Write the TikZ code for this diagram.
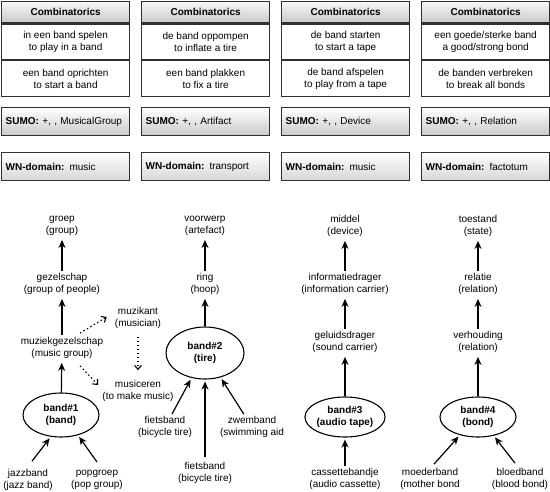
\documentclass[tikz,border=0pt]{standalone}
\usepackage{fontspec}
\setmainfont{Liberation Sans}
\usetikzlibrary{arrows.meta,shapes.geometric}
\definecolor{bord}{HTML}{303030}
\begin{document}
\begin{tikzpicture}[x=1pt,y=-1pt,
  every node/.style={font=\fontsize{10}{12}\selectfont},
  tbox/.style={draw=bord, line width=1.3pt, minimum width=128pt, inner sep=0pt, align=center},
  hdr/.style={tbox, minimum height=21pt, top color=gray!6, bottom color=gray!42, font=\fontsize{10}{12}\selectfont\bfseries},
  cell/.style={tbox, minimum height=35.5pt, fill=white},
  sbox/.style={draw=bord, line width=1.3pt, minimum width=128pt, minimum height=28pt, text width=120pt, inner xsep=4pt, inner ysep=0pt, align=left, top color=white, bottom color=gray!42},
  wbox/.style={sbox, bottom color=gray!32},
  lbl/.style={align=center, inner sep=2pt},
  ell/.style={ellipse, draw=black, line width=1.1pt, align=center, inner sep=0pt, font=\fontsize{10}{12}\selectfont\bfseries},
  arr/.style={line width=1.2pt, -{Stealth[length=8pt,width=7pt,inset=2.5pt]}, shorten >=2pt},
  darr/.style={line width=1.1pt, dash pattern=on 1.5pt off 2.5pt, -{Straight Barb[length=4pt,width=7pt]}}
]
\useasboundingbox (0,0) rectangle (550,491);

% ---- tables ----
\node[hdr, anchor=north west] (h1) at (1,1) {Combinatorics};
\node[cell, anchor=north] (a1) at (h1.south) {in een band spelen\\to play in a band};
\node[cell, anchor=north] (c1) at (a1.south) {een band oprichten\\to start a band};
\node[hdr, anchor=north west] (h2) at (141,1) {Combinatorics};
\node[cell, anchor=north] (a2) at (h2.south) {de band oppompen\\to inflate a tire};
\node[cell, anchor=north] (c2) at (a2.south) {een band plakken\\to fix a tire};
\node[hdr, anchor=north west] (h3) at (281,1) {Combinatorics};
\node[cell, anchor=north] (a3) at (h3.south) {de band starten\\to start a tape};
\node[cell, anchor=north] (c3) at (a3.south) {de band afspelen\\to play from a tape};
\node[hdr, anchor=north west] (h4) at (421,1) {Combinatorics};
\node[cell, anchor=north] (a4) at (h4.south) {een goede/sterke band\\a good/strong bond};
\node[cell, anchor=north] (c4) at (a4.south) {de banden verbreken\\to break all bonds};

\node[sbox, anchor=north west] (s1) at (1,107) {\textbf{SUMO:} +, , MusicalGroup};
\node[sbox, anchor=north west] (s2) at (141,107) {\textbf{SUMO:} +, , Artifact};
\node[sbox, anchor=north west] (s3) at (281,107) {\textbf{SUMO:} +, , Device};
\node[sbox, anchor=north west] (s4) at (421,107) {\textbf{SUMO:} +, , Relation};

\node[wbox, anchor=north west] (w1) at (1,152) {\textbf{WN-domain:} music};
\node[wbox, anchor=north west] (w2) at (141,152) {\textbf{WN-domain:} transport};
\node[wbox, anchor=north west] (w3) at (281,152) {\textbf{WN-domain:} music};
\node[wbox, anchor=north west] (w4) at (421,152) {\textbf{WN-domain:} factotum};

% ---- column 1 ----
\node[lbl] (groep) at (62,226) {groep\\(group)};
\node[lbl] (gez) at (62,284) {gezelschap\\(group of people)};
\node[lbl] (mg) at (62,348) {muziekgezelschap\\(music group)};
\node[lbl] (muz) at (138,318) {muzikant\\(musician)};
\node[lbl] (mus) at (138,391) {musiceren\\(to make music)};
\node[ell, minimum width=76pt, minimum height=44pt] (b1) at (61,415) {band\#1\\(band)};
\node[lbl] (jb) at (28,480) {jazzband\\(jazz band)};
\node[lbl] (pg) at (97,480) {popgroep\\(pop group)};

\draw[arr] (gez) -- (groep);
\draw[arr] (mg) -- (gez);
\draw[arr] (b1) -- (mg);
\draw[arr] ([xshift=4pt,yshift=6pt]jb.north) -- (b1.245);
\draw[arr] ([yshift=6pt]pg.north) -- (b1.310);
\draw[darr] ([xshift=18pt,yshift=2pt]mg.north) -- ([xshift=-6pt,yshift=1pt]muz.west);
\draw[darr] ([yshift=-6pt]muz.south) -- ([yshift=8pt]mus.north);
\draw[darr] ([xshift=18pt,yshift=-5pt]mg.south) -- ([xshift=-2pt,yshift=6pt]mus.west);

% ---- column 2 ----
\node[lbl] (voor) at (205,226) {voorwerp\\(artefact)};
\node[lbl] (ring) at (205,284) {ring\\(hoop)};
\node[ell, minimum width=78pt, minimum height=52pt] (b2) at (205,353) {band\#2\\(tire)};
\node[lbl] (fb1) at (165,427) {fietsband\\(bicycle tire)};
\node[lbl] (zb) at (252,427) {zwemband\\(swimming aid};
\node[lbl] (fb2) at (205,473) {fietsband\\(bicycle tire)};

\draw[arr] (ring) -- (voor);
\draw[arr] (b2) -- (ring);
\draw[arr] (fb1) -- (b2);
\draw[arr] (zb) -- (b2);
\draw[arr] ([yshift=3pt]fb2.north) -- (b2);

% ---- column 3 ----
\node[lbl] (mid) at (345,226) {middel\\(device)};
\node[lbl] (inf) at (345,284) {informatiedrager\\(information carrier)};
\node[lbl] (gel) at (345,342) {geluidsdrager\\(sound carrier)};
\node[ell, minimum width=74pt, minimum height=40pt] (b3) at (345,417) {band\#3\\(audio tape)};
\node[lbl] (cb) at (345,479) {cassettebandje\\(audio cassette)};

\draw[arr] (inf) -- (mid);
\draw[arr] (gel) -- (inf);
\draw[arr] (b3) -- (gel);
\draw[arr] (cb) -- (b3);

% ---- column 4 ----
\node[lbl] (toe) at (478,226) {toestand\\(state)};
\node[lbl] (rel) at (478,284) {relatie\\(relation)};
\node[lbl] (ver) at (478,342) {verhouding\\(relation)};
\node[ell, minimum width=76pt, minimum height=40pt] (b4) at (478,417) {band\#4\\(bond)};
\node[lbl] (mb) at (430,479) {moederband\\(mother bond};
\node[lbl] (bb) at (520,479) {bloedband\\(blood bond)};

\draw[arr] (rel) -- (toe);
\draw[arr] (ver) -- (rel);
\draw[arr] (b4) -- (ver);
\draw[arr] ([xshift=4pt,yshift=2pt]mb.north) -- (b4.225);
\draw[arr] ([xshift=-5pt,yshift=3pt]bb.north) -- (b4.310);
\end{tikzpicture}
\end{document}
